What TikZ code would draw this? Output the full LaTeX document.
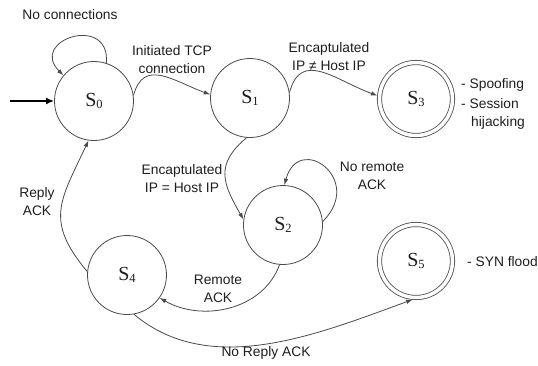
\documentclass[tikz,border=0pt]{standalone}
\usepackage{fontspec}
\setmainfont{Liberation Sans}
\newfontfamily\seriffont{Liberation Serif}
\usetikzlibrary{arrows.meta}
\definecolor{linec}{HTML}{4A4A4A}
\definecolor{textc}{HTML}{1E1E1E}
\newcommand\stname[1]{{\seriffont\fontsize{20}{20}\selectfont S\kern-0.3pt\raisebox{-2.2pt}{\fontsize{12.5}{12.5}\selectfont #1}}}
\begin{document}
\begin{tikzpicture}[x=1pt,y=1pt,
  state/.style={circle, draw=linec, line width=0.8pt, minimum size=79pt, inner sep=0pt, fill=white, text=textc},
  accept/.style={state, double=white, double distance=3.5pt, minimum size=73pt, outer sep=2.2pt},
  lbl/.style={font=\fontsize{13.8}{18}\selectfont, align=center, text=textc, inner sep=0pt},
  tr/.style={draw=linec, line width=0.8pt, -{Latex[length=6.5pt,width=4.5pt]}}]
\useasboundingbox (0,0) rectangle (538,-365);
\node[state]  (S0) at (94,-101)  {\stname{0}};
\node[state]  (S1) at (250,-98)  {\stname{1}};
\node[state]  (S2) at (283,-225) {\stname{2}};
\node[accept] (S3) at (416,-99)  {\stname{3}};
\node[state]  (S4) at (127,-275) {\stname{4}};
\node[accept] (S5) at (416,-261) {\stname{5}};
\coordinate (init) at (10,-101);
\draw[draw=black, line width=1.8pt, -{Latex[length=8pt,width=7pt]}] (init) -- (S0.west);
\draw[tr] (S0.72) to[out=85, in=135, out distance=50pt, in distance=50pt] (S0.140);
\draw[tr] (S0.8) to[out=75,in=160,looseness=1.3] (S1.175);
\draw[tr] (S1.8) to[out=75,in=160,looseness=1.3] (S3.175);
\draw[tr] (S1.265) to[out=220,in=120,looseness=1.3] (S2.172);
\draw[tr] (S2.5) to[out=45, in=75, out distance=60pt, in distance=55pt] (S2.88);
\draw[tr] (S2.265) to[out=250,in=-30] (S4.-35);
\draw[tr] (S4.175) to[out=130,in=245,looseness=1.3] (S0.262);
\draw[tr] (S4.-80) to[out=-40, in=200, distance=100pt] (S5.265);
\node[lbl] (l00) at (70,-15) {No connections};
\node[lbl] (l01) at (172,-60) {Initiated TCP\\connection};
\node[lbl] (l13) at (329,-57) {Encaptulated\\IP ≠ Host IP};
\node[lbl] (l12) at (182,-179) {Encaptulated\\IP = Host IP};
\node[lbl] (l22) at (372,-176) {No remote\\ACK};
\node[lbl] (l24) at (218,-289) {Remote\\ACK};
\node[lbl] (l40) at (37,-202) {Reply\\ACK};
\node[lbl] (l45) at (266,-353) {No Reply ACK};
\node[lbl, anchor=west] (a3a) at (461,-85) {- Spoofing};
\node[lbl, anchor=west] (a3b) at (461,-104) {- Session};
\node[lbl, anchor=west] (a3c) at (471,-123) {hijacking};
\node[lbl, anchor=west] (a5) at (467,-262) {- SYN flood};
\end{tikzpicture}
\end{document}
